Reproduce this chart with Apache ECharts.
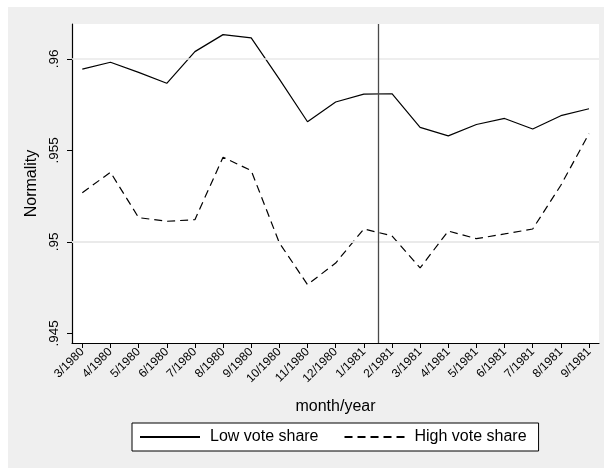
<!DOCTYPE html>
<html>
<head>
<meta charset="utf-8">
<script src="https://cdn.jsdelivr.net/npm/echarts@6/dist/echarts.min.js"></script>
<style>
  html, body { margin: 0; padding: 0; background: #fff; }
  #wrap { position: relative; width: 604px; height: 468px; background: #fff; }
  #bg { position: absolute; left: 8px; top: 7px; width: 596px; height: 461px; background: #efefef; }
  #chart { position: absolute; left: 0; top: 0; width: 604px; height: 468px; }
</style>
</head>
<body>
<div id="wrap"><div id="bg"></div><div id="chart"></div></div>
<script>
// Monthly normality by vote-share group, March 1980 to September 1981
const months = ['3/1980', '4/1980', '5/1980', '6/1980', '7/1980', '8/1980', '9/1980', '10/1980',
  '11/1980', '12/1980', '1/1981', '2/1981', '3/1981', '4/1981', '5/1981', '6/1981', '7/1981',
  '8/1981', '9/1981'];
const lowVoteShare = [0.95944, 0.95982, 0.95927, 0.95867, 0.9604, 0.96133, 0.96115, 0.9589,
  0.95657, 0.95765, 0.95808, 0.9581, 0.95626, 0.9558, 0.95642, 0.95675, 0.95617, 0.9569, 0.95728];
const highVoteShare = [0.95269, 0.95381, 0.95133, 0.95113, 0.95122, 0.95463, 0.9539, 0.94995,
  0.94767, 0.94885, 0.95071, 0.95034, 0.94858, 0.9506, 0.95018, 0.95044, 0.95071, 0.9531, 0.95592];
const yTickValues = [0.945, 0.95, 0.955, 0.96];
const yTickLabels = ['.945', '.95', '.955', '.96'];
// Reference line between 1/1981 and 2/1981
const breakPosition = 10.5;

const FONT = 'Liberation Sans, Arial, sans-serif';
const chart = echarts.init(document.getElementById('chart'), null, { renderer: 'canvas' });

const idx = months.map((_, i) => i);

chart.setOption({
  animation: false,
  backgroundColor: 'transparent',
  textStyle: { fontFamily: FONT, color: '#000' },
  grid: {
    left: 72, top: 24, right: 5, bottom: 125,
    show: true, backgroundColor: '#fff', borderWidth: 0
  },
  xAxis: {
    type: 'value',
    min: -0.366,
    max: 18.355,
    name: 'month/year',
    nameLocation: 'middle',
    nameGap: 56,
    nameTextStyle: { fontSize: 16, color: '#000', fontFamily: FONT },
    axisLine: { show: true, onZero: false, lineStyle: { color: '#000', width: 1.2 } },
    axisTick: { show: true, length: 5, customValues: idx, lineStyle: { color: '#000', width: 1 } },
    axisLabel: {
      customValues: idx,
      rotate: 45,
      margin: 7,
      fontSize: 12,
      color: '#000',
      fontFamily: FONT,
      formatter: v => months[Math.round(v)]
    },
    splitLine: { show: false }
  },
  yAxis: {
    type: 'value',
    min: 0.94448,
    max: 0.96191,
    name: 'Normality',
    nameLocation: 'middle',
    nameGap: 27,
    nameTextStyle: { fontSize: 16, color: '#000', fontFamily: FONT },
    axisLine: { show: true, onZero: false, lineStyle: { color: '#000', width: 1.2 } },
    axisTick: { show: true, length: 5, customValues: yTickValues, lineStyle: { color: '#000', width: 1 } },
    axisLabel: {
      customValues: yTickValues,
      rotate: 90,
      margin: 11,
      fontSize: 13.5,
      color: '#000',
      fontFamily: FONT,
      formatter: v => yTickLabels[yTickValues.findIndex(t => Math.abs(t - v) < 1e-9)]
    },
    splitLine: { show: false }
  },
  legend: {
    left: 132,
    top: 423,
    padding: [6, 12, 6, 7],
    itemGap: 25,
    itemWidth: 60,
    itemHeight: 14,
    borderColor: '#000',
    borderWidth: 1,
    backgroundColor: '#fff',
    borderRadius: 0,
    // line-only keys: hide the marker drawn on top of each key line
    itemStyle: { color: 'transparent', borderColor: 'transparent', borderWidth: 0, opacity: 0 },
    textStyle: { fontSize: 16, color: '#000', fontFamily: FONT, lineHeight: 16, padding: [0, 0, 0, 5] },
    data: ['Low vote share', 'High vote share']
  },
  series: [
    {
      // horizontal grid lines at the y ticks
      type: 'line',
      z: 1,
      data: [],
      silent: true,
      markLine: {
        silent: true,
        symbol: 'none',
        label: { show: false },
        lineStyle: { color: '#e8e8e8', width: 1.5, type: 'solid' },
        data: yTickValues.map(v => ({ yAxis: v }))
      }
    },
    {
      name: 'Low vote share',
      type: 'line',
      z: 3,
      symbol: 'none',
      lineStyle: { color: '#000', width: 1.2, type: 'solid' },
      itemStyle: { color: '#000' },
      data: lowVoteShare.map((v, i) => [i, v])
    },
    {
      name: 'High vote share',
      type: 'line',
      z: 3,
      symbol: 'none',
      lineStyle: { color: '#000', width: 1.2, type: [8, 5] },
      itemStyle: { color: '#000' },
      data: highVoteShare.map((v, i) => [i, v]),
      markLine: {
        silent: true,
        symbol: 'none',
        label: { show: false },
        lineStyle: { color: '#4a4a4a', width: 1.3, type: 'solid' },
        data: [{ xAxis: breakPosition }]
      }
    }
  ]
});
</script>
</body>
</html>
